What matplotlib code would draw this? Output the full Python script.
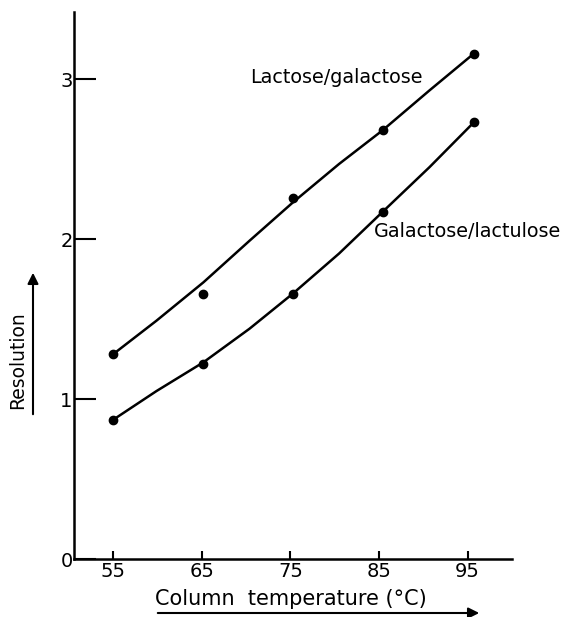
import matplotlib
matplotlib.use("Agg")
import matplotlib.pyplot as plt

# temperatures (deg C) and resolution values
temp_pts = [55, 65.2, 75.3, 85.4, 95.7]
lac_gal = [1.28, 1.66, 2.26, 2.68, 3.16]
gal_lactu = [0.87, 1.22, 1.66, 2.17, 2.73]

# hand-drawn curves through the points
curve_temp = [55, 59.9, 65.2, 70.4, 75.3, 80.5, 85.4, 90.7, 95.7]
lac_gal_curve = [1.28, 1.49, 1.73, 1.99, 2.23, 2.47, 2.68, 2.93, 3.16]
gal_lactu_curve = [0.87, 1.05, 1.23, 1.44, 1.66, 1.91, 2.17, 2.45, 2.73]

xticks = [55, 65, 75, 85, 95]
yticks = [0, 1, 2, 3]

plt.rcParams["font.family"] = ["DejaVu Sans"]

fig = plt.figure(figsize=(5.68, 6.17), dpi=100)
ax = fig.add_axes([0.1303, 0.094, 0.771, 0.8865])

ax.plot(curve_temp, lac_gal_curve, color="black", lw=1.8)
ax.plot(curve_temp, gal_lactu_curve, color="black", lw=1.8)
ax.plot(temp_pts, lac_gal, "o", color="black", ms=6)
ax.plot(temp_pts, gal_lactu, "o", color="black", ms=6)

ax.text(70.5, 3.01, "Lactose/galactose", fontsize=13.8, va="center", ha="left")
ax.text(84.4, 2.05, "Galactose/lactulose", fontsize=13.8, va="center", ha="left")

ax.set_xlim(50.6, 100)
ax.set_ylim(0, 3.42)
ax.set_xticks(xticks)
ax.set_yticks(yticks)
ax.set_xticklabels([str(t) for t in xticks], fontsize=14)
ax.set_yticklabels([str(t) for t in yticks], fontsize=14)
ax.tick_params(axis="y", direction="in", length=16, width=1.5, pad=1)
ax.tick_params(axis="x", direction="in", length=6, width=1.5, pad=2)
for s in ["top", "right"]:
    ax.spines[s].set_visible(False)
for s in ["left", "bottom"]:
    ax.spines[s].set_linewidth(1.8)

# axis labels with arrows, as in the original drawing
fig.text(155 / 568, 1 - 599 / 617, "Column  temperature (\u00b0C)", fontsize=15,
         ha="left", va="center")
fig.text(18 / 568, 1 - 360 / 617, "Resolution", fontsize=13.5, rotation=90,
         ha="center", va="center")
ax.annotate("", xy=(482 / 568, 1 - 613 / 617), xytext=(155 / 568, 1 - 613 / 617),
            xycoords="figure fraction", textcoords="figure fraction",
            arrowprops=dict(arrowstyle="-|>", color="black", lw=1.5, mutation_scale=16))
ax.annotate("", xy=(33 / 568, 1 - 270 / 617), xytext=(33 / 568, 1 - 417 / 617),
            xycoords="figure fraction", textcoords="figure fraction",
            arrowprops=dict(arrowstyle="-|>", color="black", lw=1.5, mutation_scale=16))

fig.savefig("out.png", dpi=100)
